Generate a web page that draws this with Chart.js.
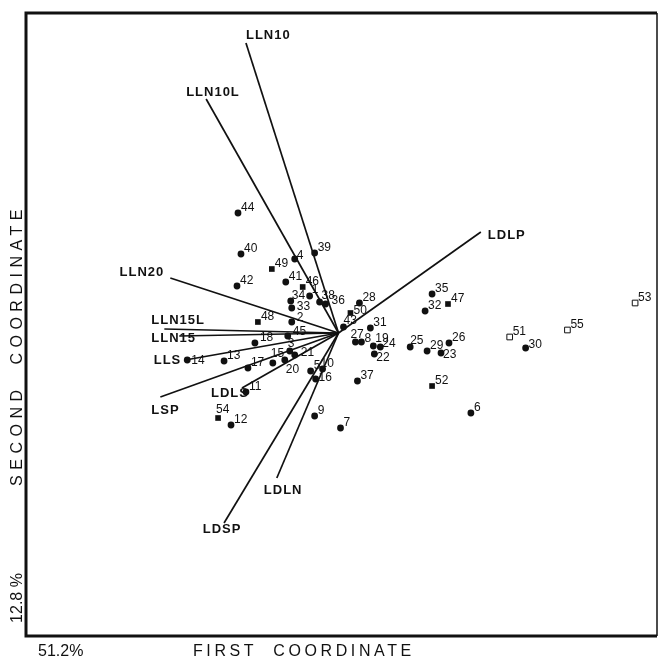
<!DOCTYPE html>
<html>
<head>
<meta charset="utf-8">
<script src="https://cdn.jsdelivr.net/npm/chart.js@4/dist/chart.umd.min.js"></script>
<style>
  html, body { margin: 0; padding: 0; background: #fff; }
  #wrap { width: 662px; height: 663px; }
</style>
</head>
<body>
<div id="wrap"><canvas id="c" width="662" height="663"></canvas></div>
<script>
// Site scores on the first two ordination axes
const siteNumbers = [
  1, 2, 3, 4, 5, 6, 7, 8, 9, 10,
  11, 12, 13, 14, 15, 16, 17, 18, 19, 20,
  21, 22, 23, 24, 25, 26, 27, 28, 29, 30,
  31, 32, 33, 34, 35, 36, 37, 38, 39, 40,
  41, 42, 43, 44, 45, 46, 47, 48, 49, 50,
  51, 52, 53, 54, 55
];
const firstCoord = [
  -0.29, -0.47, -0.49, -0.44, -0.28, 1.33, 0.02, 0.23, -0.24, -0.16,
  -0.93, -1.08, -1.15, -1.52, -0.66, -0.23, -0.91, -0.84, 0.35, -0.54,
  -0.44, 0.36, 1.03, 0.42, 0.72, 1.11, 0.17, 0.21, 0.89, 1.88,
  0.32, 0.87, -0.47, -0.48, 0.94, -0.13, 0.19, -0.19, -0.24, -0.98,
  -0.53, -1.02, 0.05, -1.01, -0.51, -0.36, 1.10, -0.81, -0.67, 0.12,
  1.72, 0.94, 2.98, -1.21, 2.30
];
const secondCoord = [
  0.37, 0.11, -0.18, 0.74, -0.38, -0.80, -0.95, -0.09, -0.83, -0.36,
  -0.59, -0.92, -0.28, -0.27, -0.30, -0.46, -0.35, -0.10, -0.13, -0.27,
  -0.22, -0.21, -0.20, -0.14, -0.14, -0.10, -0.09, 0.30, -0.18, -0.15,
  0.05, 0.22, 0.25, 0.32, 0.39, 0.29, -0.48, 0.31, 0.80, 0.79,
  0.51, 0.47, 0.06, 1.20, -0.03, 0.46, 0.29, 0.11, 0.64, 0.20,
  -0.04, -0.53, 0.30, -0.85, 0.03
];
// Marker group of each site: "dot", "square" (filled) or "open" (open square)
const siteGroup = [
  "dot", "dot", "dot", "dot", "dot", "dot", "dot", "dot", "dot", "dot",
  "dot", "dot", "dot", "dot", "dot", "dot", "dot", "dot", "dot", "dot",
  "dot", "dot", "dot", "dot", "dot", "dot", "dot", "dot", "dot", "dot",
  "dot", "dot", "dot", "dot", "dot", "dot", "dot", "dot", "dot", "dot",
  "dot", "dot", "dot", "dot", "dot", "square", "square", "square", "square", "square",
  "open", "square", "open", "square", "open"
];

// Variable loadings drawn as vectors from the origin
const variableNames = ["LLN10", "LLN10L", "LLN20", "LLN15L", "LLN15", "LLS", "LSP", "LDLS", "LDSP", "LDLN", "LDLP"];
const loadingX = [-0.93, -1.33, -1.69, -1.75, -1.60, -1.54, -1.79, -0.97, -1.15, -0.62, 1.43];
const loadingY = [2.90, 2.34, 0.55, 0.04, -0.03, -0.27, -0.64, -0.55, -1.90, -1.45, 1.01];

// Explained variance shown beside the axes
const firstAxisShare = "51.2%";
const secondAxisShare = "12.8 %";

// ---- label placement (pixels) ----
const vectorLabelPlace = {
  LLN10:  { dx: 0,   dy: -8, align: "left" },
  LLN10L: { dx: -20, dy: -7, align: "left" },
  LLN20:  { dx: -6,  dy: -6, align: "right" },
  LLN15L: { dx: -13, dy: -9, align: "left" },
  LLN15:  { dx: -28, dy: 2,  align: "left" },
  LLS:    { dx: -4,  dy: 0,  align: "right" },
  LSP:    { dx: -9,  dy: 13, align: "left" },
  LDLS:   { dx: -31, dy: 5,  align: "left" },
  LDSP:   { dx: -2,  dy: 6,  align: "center" },
  LDLN:   { dx: -13, dy: 12, align: "left" },
  LDLP:   { dx: 7,   dy: 3,  align: "left" }
};
const siteLabelShift = {
  1: [2, -6], 3: [-2, -7], 4: [2, -3], 10: [-2, -5], 14: [4, 1], 15: [-2, -9],
  16: [3, -1], 20: [1, 10], 21: [6, -2], 22: [2, 4], 23: [2, 2], 24: [2, -3],
  27: [-5, -7], 33: [5, -1], 34: [1, -5], 36: [6, -3], 38: [2, -6], 43: [0, -6],
  45: [5, -4], 50: [3, -2], 54: [-2, -8], 25: [0, -6], 2: [5, -4], 18: [5, -5],
  30: [3, -3], 8: [3, -3], 19: [2, -7]
};

function pts(group) {
  const out = [];
  siteNumbers.forEach((n, i) => {
    if (siteGroup[i] === group) out.push({ x: firstCoord[i], y: secondCoord[i], n });
  });
  return out;
}

const vectorSets = variableNames.map((name, i) => ({
  label: name,
  data: [{ x: 0, y: 0 }, { x: loadingX[i], y: loadingY[i] }],
  showLine: true,
  borderColor: "#111",
  borderWidth: 1.7,
  pointRadius: 0,
  pointHoverRadius: 0,
  order: 2
}));

const markerSets = [
  { label: "dot", data: pts("dot"), pointStyle: "circle", pointRadius: 3.4,
    backgroundColor: "#111", borderColor: "#111", borderWidth: 0, order: 1 },
  { label: "square", data: pts("square"), pointStyle: "rect", pointRadius: 4,
    backgroundColor: "#111", borderColor: "#111", borderWidth: 0, order: 1 },
  { label: "open", data: pts("open"), pointStyle: "rect", pointRadius: 4,
    backgroundColor: "#fff", borderColor: "#111", borderWidth: 1, order: 1 }
];

const annotate = {
  id: "annotate",
  afterDatasetsDraw(chart) {
    const { ctx, chartArea: a, scales: { x, y } } = chart;
    ctx.save();
    ctx.fillStyle = "#111";
    ctx.textBaseline = "middle";

    // site numbers
    ctx.font = "12px 'Liberation Sans', Arial, sans-serif";
    ctx.textAlign = "left";
    siteNumbers.forEach((n, i) => {
      const s = siteLabelShift[n] || [3, -5];
      ctx.fillText(String(n), x.getPixelForValue(firstCoord[i]) + s[0], y.getPixelForValue(secondCoord[i]) + s[1]);
    });

    // variable names at the vector tips
    ctx.font = "bold 13px 'Liberation Sans', Arial, sans-serif";
    ctx.letterSpacing = "1px";
    variableNames.forEach((name, i) => {
      const p = vectorLabelPlace[name];
      ctx.textAlign = p.align;
      ctx.fillText(name, x.getPixelForValue(loadingX[i]) + p.dx, y.getPixelForValue(loadingY[i]) + p.dy);
    });

    // frame
    ctx.letterSpacing = "0px";
    ctx.strokeStyle = "#111";
    ctx.lineWidth = 3;
    ctx.beginPath();
    ctx.moveTo(a.right, a.top);
    ctx.lineTo(a.left, a.top);
    ctx.lineTo(a.left, a.bottom);
    ctx.lineTo(a.right, a.bottom);
    ctx.stroke();
    ctx.lineWidth = 1.5;
    ctx.beginPath();
    ctx.moveTo(a.right, a.top);
    ctx.lineTo(a.right, a.bottom);
    ctx.stroke();

    // axis titles
    ctx.font = "16px 'Liberation Sans', Arial, sans-serif";
    ctx.textAlign = "left";
    ctx.fillText(firstAxisShare, 38, 652);
    ctx.letterSpacing = "3.6px";
    ctx.fillText("FIRST  COORDINATE", 193, 652);

    ctx.translate(18, 0);
    ctx.rotate(-Math.PI / 2);
    ctx.textAlign = "center";
    ctx.letterSpacing = "5.5px";
    ctx.fillText("SECOND  COORDINATE", -345, 0);
    ctx.letterSpacing = "0px";
    ctx.fillText(secondAxisShare, -598, 0);
    ctx.restore();
  }
};

new Chart(document.getElementById("c"), {
  type: "scatter",
  data: { datasets: [...vectorSets, ...markerSets] },
  options: {
    responsive: false,
    animation: false,
    devicePixelRatio: 1,
    layout: { padding: { left: 26, top: 13, right: 2, bottom: 27 } },
    plugins: { legend: { display: false }, tooltip: { enabled: false } },
    scales: {
      x: { type: "linear", min: -3.14, max: 3.20, display: false },
      y: { type: "linear", min: -3.03, max: 3.20, display: false }
    }
  },
  plugins: [annotate]
});
</script>
</body>
</html>
